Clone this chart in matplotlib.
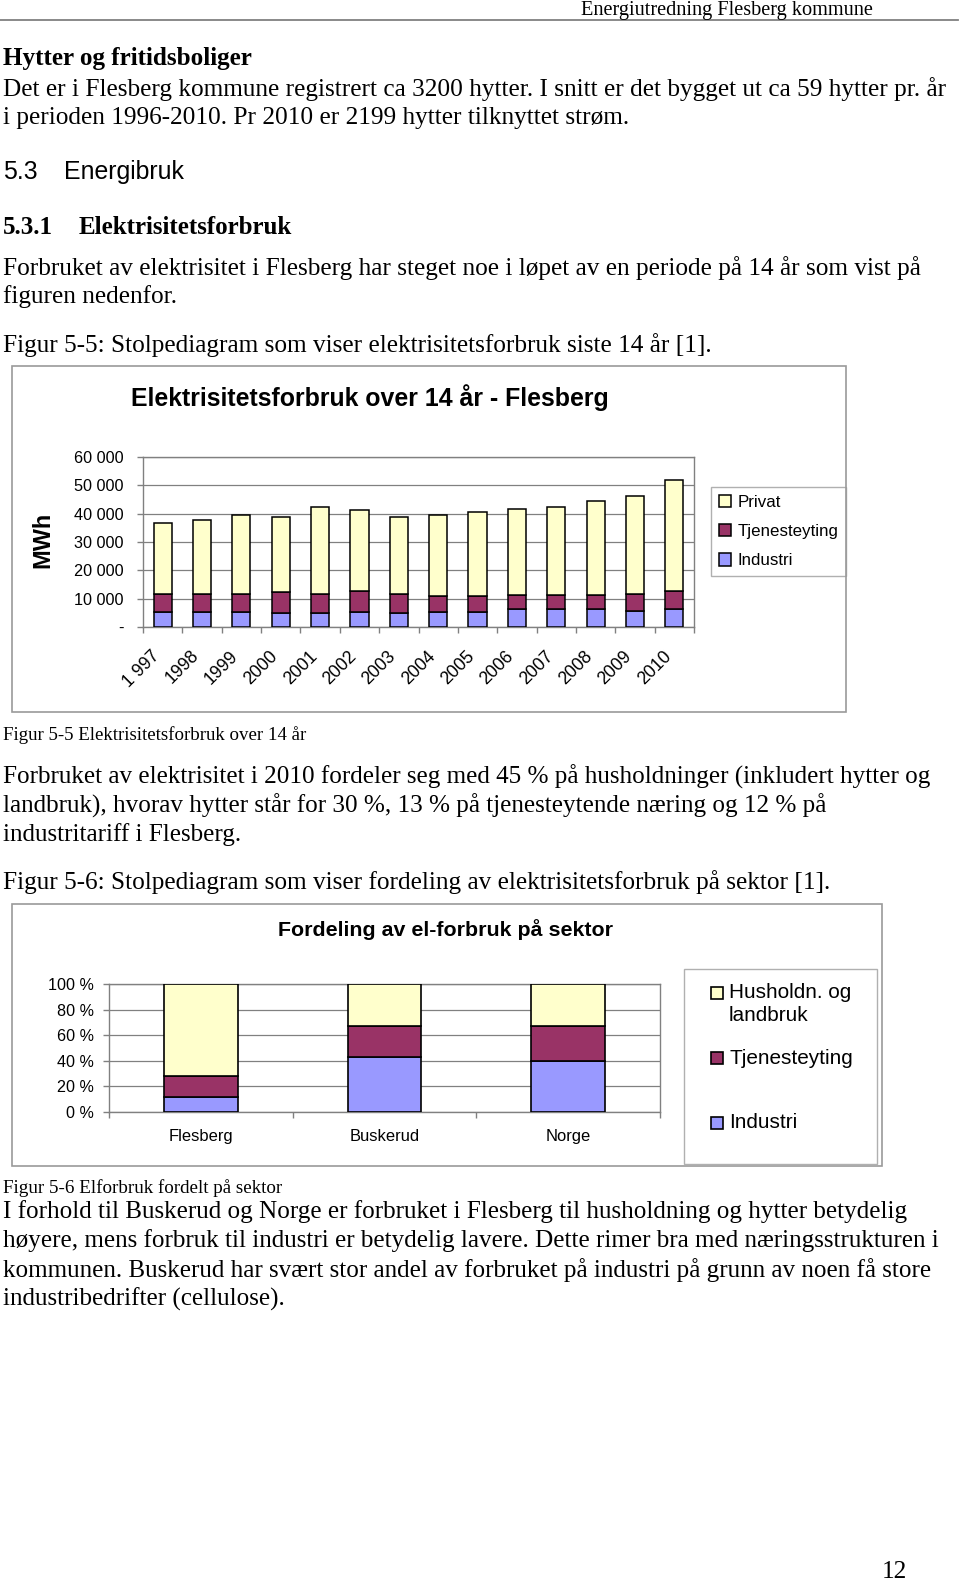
import matplotlib
matplotlib.use('Agg')
import matplotlib.pyplot as plt
import matplotlib.transforms as mtransforms
from matplotlib.patches import Rectangle
import numpy as np

# ---------------- data ----------------
years = ['1 997', '1998', '1999', '2000', '2001', '2002', '2003',
         '2004', '2005', '2006', '2007', '2008', '2009', '2010']
industri = [5400, 5400, 5400, 5100, 5100, 5400, 5100, 5400, 5400, 6200, 6200, 6200, 5500, 6200]
tjenesteyting = [6100, 6100, 6100, 7100, 6400, 7400, 6400, 5700, 5700, 5000, 5000, 5000, 6100, 6600]
privat = [25200, 26400, 28100, 26700, 30900, 28400, 27400, 28500, 29500, 30600, 31200, 33300, 34600, 39000]
series1 = ['Industri', 'Tjenesteyting', 'Privat']
yticks1 = [0, 10000, 20000, 30000, 40000, 50000, 60000]
ylabels1 = ['-', '10 000', '20 000', '30 000', '40 000', '50 000', '60 000']

regions = ['Flesberg', 'Buskerud', 'Norge']
ind2 = [12.0, 42.6, 40.0]
tje2 = [16.0, 24.2, 26.8]
hus2 = [72.0, 33.2, 33.2]
series2 = ['Industri', 'Tjenesteyting', 'Husholdn. og\nlandbruk']
yticks2 = [0, 20, 40, 60, 80, 100]
ylabels2 = ['0 %', '20 %', '40 %', '60 %', '80 %', '100 %']

colors = ['#9999FF', '#993366', '#FFFFCC']

# ---------------- page ----------------
W, H = 960, 1585
fig = plt.figure(figsize=(W / 100, H / 100), dpi=100)
renderer = fig.canvas.get_renderer()
SERIF = 'Liberation Serif'
SANS = 'Liberation Sans'
GRAY = '#808080'


def fx(x):
    return x / W


def fy(y):
    return 1 - y / H


def fit(s, target, family, weight='normal', ref=20.0):
    t = fig.text(0, 0, s, fontsize=ref, family=family, weight=weight)
    w = t.get_window_extent(renderer=renderer).width
    t.remove()
    return ref * target / w


def txt(x, y, s, size, family=SERIF, weight='normal', ha='left', **kw):
    return fig.text(fx(x), fy(y), s, fontsize=size, family=family, weight=weight,
                    ha=ha, va='center', **kw)


# header
hs = fit('Energiutredning Flesberg kommune', 301, SERIF) * 0.97
txt(873, 10.5, 'Energiutredning Flesberg kommune', hs, ha='right')
fig.add_artist(plt.Line2D([0, fx(958)], [fy(20), fy(20)], color=GRAY, lw=1.3,
                          transform=fig.transFigure))

body = fit('Det er i Flesberg kommune registrert ca 3200 hytter. I snitt er det bygget ut ca 59 hytter pr. år', 944, SERIF)
bold_h = fit('Hytter og fritidsboliger', 250, SERIF, 'bold')
txt(3, 59, 'Hytter og fritidsboliger', bold_h, weight='bold')
txt(3, 89, 'Det er i Flesberg kommune registrert ca 3200 hytter. I snitt er det bygget ut ca 59 hytter pr. år', body)
txt(3, 118, 'i perioden 1996-2010. Pr 2010 er 2199 hytter tilknyttet strøm.', body)

h2 = fit('Energibruk', 120, SANS)
txt(3, 172, '5.3', h2, family=SANS)
txt(64, 172, 'Energibruk', h2, family=SANS)

h3 = fit('Elektrisitetsforbruk', 214, SERIF, 'bold')
txt(3, 227, '5.3.1', h3, weight='bold')
txt(79, 227, 'Elektrisitetsforbruk', h3, weight='bold')

txt(3, 268, 'Forbruket av elektrisitet i Flesberg har steget noe i løpet av en periode på 14 år som vist på', body)
txt(3, 297, 'figuren nedenfor.', body)
txt(3, 345, 'Figur 5-5: Stolpediagram som viser elektrisitetsforbruk siste 14 år [1].', body)

cap1 = fit('Figur 5-5 Elektrisitetsforbruk over 14 år', 303, SERIF)
txt(3, 735, 'Figur 5-5 Elektrisitetsforbruk over 14 år', cap1)

p2 = fit('Forbruket av elektrisitet i 2010 fordeler seg med 45 % på husholdninger (inkludert hytter og', 929, SERIF)
txt(3, 777, 'Forbruket av elektrisitet i 2010 fordeler seg med 45 % på husholdninger (inkludert hytter og', p2)
txt(3, 806, 'landbruk), hvorav hytter står for 30 %, 13 % på tjenesteytende næring og 12 % på', p2)
txt(3, 835, 'industritariff i Flesberg.', p2)
txt(3, 882, 'Figur 5-6: Stolpediagram som viser fordeling av elektrisitetsforbruk på sektor [1].', body)

cap2 = fit('Figur 5-6 Elforbruk fordelt på sektor', 279, SERIF)
txt(3, 1188, 'Figur 5-6 Elforbruk fordelt på sektor', cap2)

p3 = fit('I forhold til Buskerud og Norge er forbruket i Flesberg til husholdning og hytter betydelig', 905, SERIF)
txt(3, 1212, 'I forhold til Buskerud og Norge er forbruket i Flesberg til husholdning og hytter betydelig', p3)
txt(3, 1241, 'høyere, mens forbruk til industri er betydelig lavere. Dette rimer bra med næringsstrukturen i', p3)
txt(3, 1270, 'kommunen. Buskerud har svært stor andel av forbruket på industri på grunn av noen få store', p3)
txt(3, 1299, 'industribedrifter (cellulose).', p3)

txt(894, 1572, '12', body, ha='center')

# ---------------- chart 1 ----------------
fig.add_artist(Rectangle((fx(12), fy(712)), (846 - 12) / W, (712 - 366) / H, fill=False,
                         edgecolor='#9a9a9a', lw=1.2, transform=fig.transFigure))
t1 = fit('Elektrisitetsforbruk over 14 år - Flesberg', 477, SANS, 'bold')
txt(370, 398, 'Elektrisitetsforbruk over 14 år - Flesberg', t1, family=SANS, weight='bold', ha='center')

ax1 = fig.add_axes([fx(143), fy(627), (694 - 143) / W, (627 - 457) / H])
x = np.arange(len(years))
b = np.zeros(len(years))
handles1 = []
for vals, c, name in zip([industri, tjenesteyting, privat], colors, series1):
    bars = ax1.bar(x, vals, 0.46, bottom=b, color=c, edgecolor='black', lw=1.1, label=name, zorder=3)
    handles1.append(bars)
    b = b + np.array(vals)
ax1.set_xlim(-0.5, len(years) - 0.5)
ax1.set_ylim(0, 60000)
ax1.set_yticks(yticks1)
tick1 = fit('60 000', 50, SANS)
ax1.set_yticklabels(ylabels1, family=SANS, fontsize=tick1)
ax1.yaxis.grid(True, color=GRAY, lw=0.9, zorder=0)
for s in ax1.spines.values():
    s.set_color(GRAY)
    s.set_linewidth(1.0)
ax1.tick_params(axis='y', length=4, width=1.0, color=GRAY, pad=10)
ax1.set_xticks(x)
ax1.set_xticklabels(years, family=SANS, fontsize=tick1 * 1.08, rotation=45, ha='right',
                    va='center', rotation_mode='anchor')
ax1.tick_params(axis='x', which='major', length=0, pad=19)
ax1.set_xticks(np.arange(-0.5, len(years)), minor=True)
ax1.tick_params(axis='x', which='minor', length=4, width=1.0, color=GRAY)
off = mtransforms.ScaledTranslation(-4 / 72, 0, fig.dpi_scale_trans)
for lab in ax1.get_xticklabels():
    lab.set_transform(lab.get_transform() + off)
ax1.set_axisbelow(True)

mwh = fit('MWh', 56, SANS, 'bold')
txt(43, 540, 'MWh', mwh, family=SANS, weight='bold', ha='center', rotation=90)

leg1fs = fit('Tjenesteyting', 100, SANS)
leg1 = ax1.legend(handles1[::-1], series1[::-1], loc='upper left',
                  bbox_to_anchor=(fx(711), fy(487)), bbox_transform=fig.transFigure,
                  fancybox=False, edgecolor='#b0b0b0', framealpha=1, borderaxespad=0,
                  prop={'family': SANS, 'size': leg1fs}, handlelength=0.75, handleheight=0.75,
                  handletextpad=0.35, labelspacing=0.85, borderpad=0.45)
leg1.get_frame().set_linewidth(1.0)

# ---------------- chart 2 ----------------
fig.add_artist(Rectangle((fx(12), fy(1166)), (882 - 12) / W, (1166 - 904) / H, fill=False,
                         edgecolor='#9a9a9a', lw=1.2, transform=fig.transFigure))
t2 = fit('Fordeling av el-forbruk på sektor', 333, SANS, 'bold')
txt(446, 930, 'Fordeling av el-forbruk på sektor', t2, family=SANS, weight='bold', ha='center')

ax2 = fig.add_axes([fx(109), fy(1112), (660 - 109) / W, (1112 - 984) / H])
x2 = np.arange(len(regions))
b2 = np.zeros(len(regions))
for vals, c, name in zip([ind2, tje2, hus2], colors, series2):
    ax2.bar(x2, vals, 0.4, bottom=b2, color=c, edgecolor='black', lw=1.2, label=name, zorder=3)
    b2 = b2 + np.array(vals)
ax2.set_xlim(-0.5, len(regions) - 0.5)
ax2.set_ylim(0, 100)
ax2.set_yticks(yticks2)
tick2 = fit('100 %', 46, SANS)
ax2.set_yticklabels(ylabels2, family=SANS, fontsize=tick2)
ax2.yaxis.grid(True, color=GRAY, lw=0.9, zorder=0)
for s in ax2.spines.values():
    s.set_color(GRAY)
    s.set_linewidth(1.0)
ax2.tick_params(axis='y', length=4, width=1.0, color=GRAY, pad=7)
ax2.set_xticks(x2)
cat2 = fit('Flesberg', 64, SANS)
ax2.set_xticklabels(regions, family=SANS, fontsize=cat2)
ax2.tick_params(axis='x', which='major', length=0, pad=12)
ax2.set_xticks(np.arange(-0.5, len(regions)), minor=True)
ax2.tick_params(axis='x', which='minor', length=4, width=1.0, color=GRAY)
ax2.set_axisbelow(True)

# legend 2 (drawn as a boxed key)
fig.add_artist(Rectangle((fx(684), fy(1164)), (877 - 684) / W, (1164 - 969) / H, fill=False,
                         edgecolor='#b0b0b0', lw=1.0, transform=fig.transFigure))
leg2fs = fit('Tjenesteyting', 123, SANS)
key_y = [1123, 1058, 993]
for name, c, ky in zip(series2, colors, key_y):
    fig.add_artist(Rectangle((fx(711), fy(ky + 6)), 12 / W, 12 / H, facecolor=c,
                             edgecolor='black', lw=1.2, transform=fig.transFigure))
    for i, line in enumerate(name.split('\n')):
        txt(729, ky + i * 23, line, leg2fs, family=SANS)

fig.savefig('out.png', dpi=100)
